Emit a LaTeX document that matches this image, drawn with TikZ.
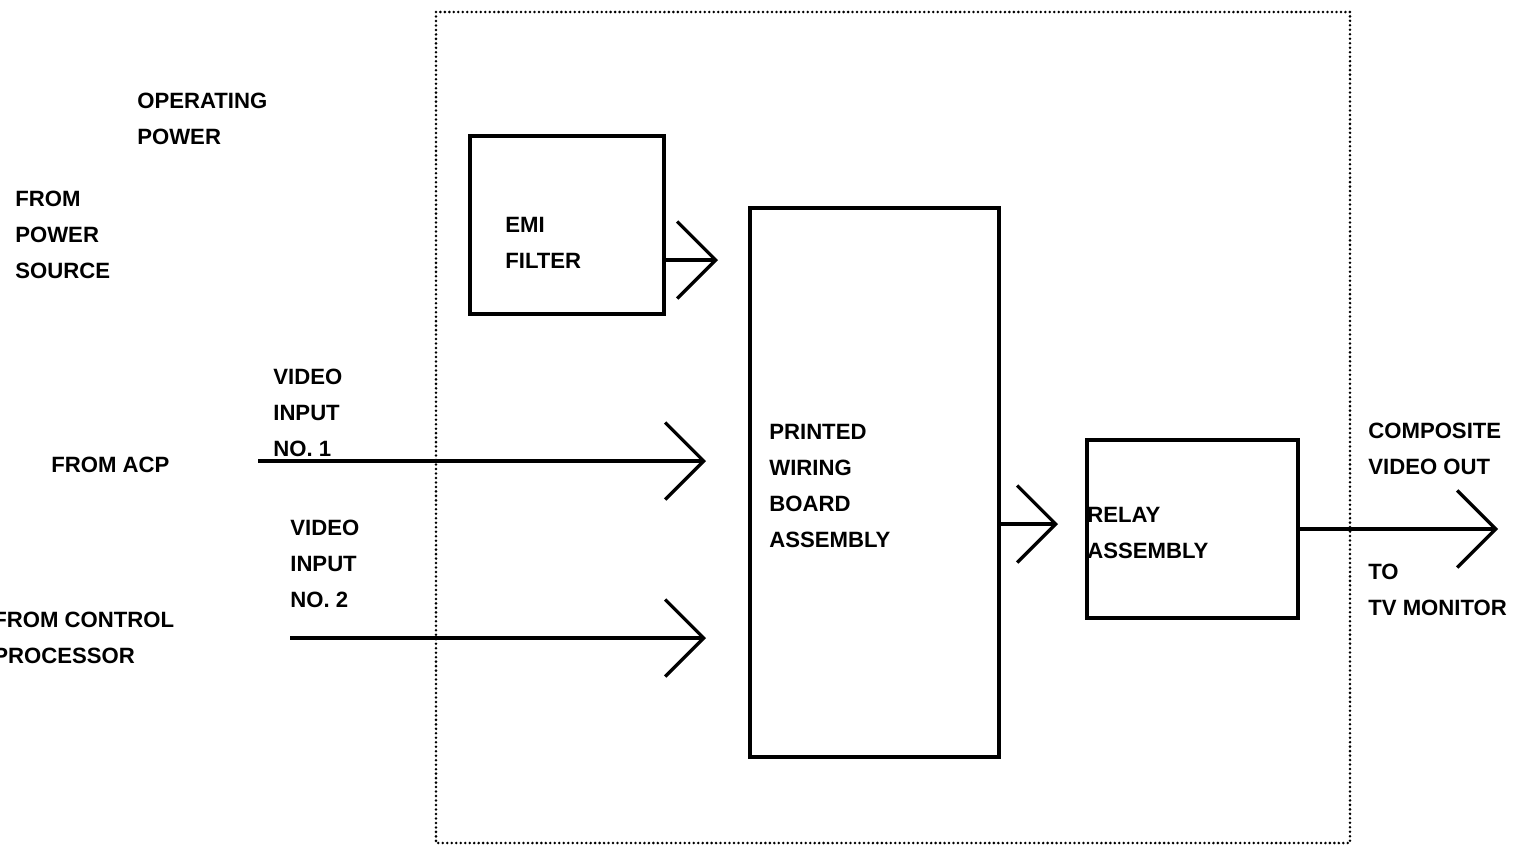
\documentclass[tikz,border=0pt]{standalone}
\usepackage{fontspec}
\setmainfont{Liberation Sans}
\usetikzlibrary{arrows.meta}
\begin{document}
\begin{tikzpicture}[x=0.02cm,y=-0.02cm,
  lbl/.style={anchor=north west, inner sep=0pt, align=left,
    font=\bfseries\fontsize{12.6}{20.5}\selectfont},
  blk/.style={draw, line width=1.9pt, inner sep=0pt},
  flow/.style={line width=1.9pt,
    -{Straight Barb[length=0.77cm,width=1.54cm,line width=1.9pt]}},
  encl/.style={line width=1.6pt, line cap=round, dash pattern=on 0pt off 2.55pt}
]
\clip (0,0) rectangle (1526,846);
\fill[white] (0,0) rectangle (1526,846);

% enclosure
\coordinate (encNW) at (436,12);
\coordinate (encSE) at (1350,843);
\draw[encl] (encNW) rectangle (encSE);

% blocks
\node[blk, minimum width=3.88cm, minimum height=3.56cm] (emi) at (567,225) {};
\node[blk, minimum width=4.98cm, minimum height=10.98cm] (pwb) at (874.5,482.5) {};
\node[blk, minimum width=4.22cm, minimum height=3.56cm] (relay) at (1192.5,529) {};

% block labels
\node[lbl] (emitxt) at (505,217) {EMI\\FILTER};
\node[lbl] (pwbtxt) at (769,424) {PRINTED\\WIRING\\BOARD\\ASSEMBLY};
\node[lbl] (relaytxt) at (1087,507) {RELAY\\ASSEMBLY};

% outside labels
\node[lbl] (oppow) at (137,93) {OPERATING\\POWER};
\node[lbl] (frompow) at (15,191) {FROM\\POWER\\SOURCE};
\node[lbl] (vin1) at (273,369) {VIDEO\\INPUT\\NO. 1};
\node[lbl] (fromacp) at (51,457) {FROM ACP};
\node[lbl] (vin2) at (290,520) {VIDEO\\INPUT\\NO. 2};
\node[lbl] (fromcp) at (-7,612) {FROM CONTROL\\PROCESSOR};
\node[lbl] (compvid) at (1368,423) {COMPOSITE\\VIDEO OUT};
\node[lbl] (totv) at (1368,564) {TO\\TV MONITOR};

% connector ends
\coordinate (emitip) at (718,260);
\coordinate (v1start) at (258,461);
\coordinate (v1tip) at (706,461);
\coordinate (v2start) at (290,638);
\coordinate (v2tip) at (706,638);
\coordinate (pwbtip) at (1058,524);
\coordinate (outtip) at (1498,529);

% connectors
\draw[flow] (emi.east |- emitip) -- (emitip);
\draw[flow] (v1start) -- (v1tip);
\draw[flow] (v2start) -- (v2tip);
\draw[flow] (pwb.east |- pwbtip) -- (pwbtip);
\draw[flow] (relay.east) -- (outtip);
\end{tikzpicture}
\end{document}
